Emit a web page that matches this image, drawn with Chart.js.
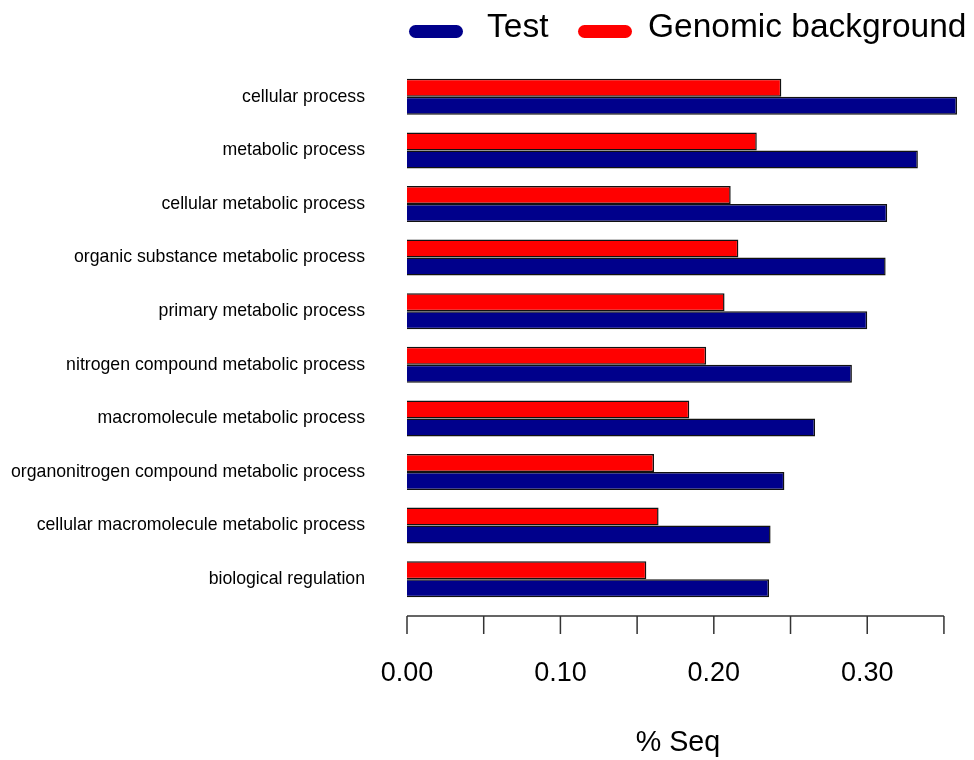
<!DOCTYPE html>
<html>
<head>
<meta charset="utf-8">
<script src="https://cdn.jsdelivr.net/npm/chart.js@4/dist/chart.umd.min.js"></script>
<style>
  html, body { margin: 0; padding: 0; background: #fff; overflow: hidden; }
  #wrap { width: 974px; height: 760px; position: relative; }
</style>
</head>
<body>
<div id="wrap"><canvas id="chart"></canvas></div>
<script>
const categories = [
    'cellular process',
    'metabolic process',
    'cellular metabolic process',
    'organic substance metabolic process',
    'primary metabolic process',
    'nitrogen compound metabolic process',
    'macromolecule metabolic process',
    'organonitrogen compound metabolic process',
    'cellular macromolecule metabolic process',
    'biological regulation'
];
const testValues = [0.3585, 0.333, 0.313, 0.312, 0.300, 0.290, 0.266, 0.246, 0.237, 0.236];
const backgroundValues = [0.244, 0.228, 0.211, 0.216, 0.207, 0.195, 0.184, 0.161, 0.164, 0.156];
const xTickValues = [0, 0.05, 0.10, 0.15, 0.20, 0.25, 0.30, 0.35];
const xTickLabels = ['0.00', '', '0.10', '', '0.20', '', '0.30', ''];

const FONT = 'Liberation Sans, Arial, sans-serif';

// R-style detached axis line under the bars
const axisLine = {
    id: 'axisLine',
    afterDraw(chart) {
        const x = chart.scales.x;
        const ctx = chart.ctx;
        const y0 = 616, y1 = 634;
        ctx.save();
        ctx.strokeStyle = '#333';
        ctx.lineWidth = 1.5;
        ctx.beginPath();
        ctx.moveTo(x.getPixelForValue(xTickValues[0]), y0);
        ctx.lineTo(x.getPixelForValue(xTickValues[xTickValues.length - 1]), y0);
        xTickValues.forEach(v => {
            const px = x.getPixelForValue(v);
            ctx.moveTo(px, y0);
            ctx.lineTo(px, y1);
        });
        ctx.stroke();
        ctx.restore();
    }
};

// legend drawn like the R one: rounded colour bars, Test first
const topLegend = {
    id: 'topLegend',
    afterDraw(chart) {
        const ctx = chart.ctx;
        const items = chart.data.datasets.slice().reverse();
        const boxX = [409, 578], textX = [487, 648];
        ctx.save();
        ctx.font = '33.5px ' + FONT;
        ctx.textBaseline = 'alphabetic';
        items.forEach((d, i) => {
            ctx.fillStyle = d.backgroundColor;
            ctx.beginPath();
            ctx.roundRect(boxX[i], 25, 54, 13, 6.5);
            ctx.fill();
            ctx.fillStyle = '#000';
            ctx.fillText(d.label, textX[i], 37);
        });
        ctx.restore();
    }
};

new Chart(document.getElementById('chart'), {
    type: 'bar',
    data: {
        labels: categories,
        datasets: [{
            label: 'Genomic background',
            data: backgroundValues,
            backgroundColor: '#ff0000',
            borderColor: '#111',
            borderWidth: 1.5,
            clip: false
        }, {
            label: 'Test',
            data: testValues,
            backgroundColor: '#00008b',
            borderColor: '#111',
            borderWidth: 1.5,
            clip: false
        }]
    },
    options: {
        indexAxis: 'y',
        responsive: true,
        maintainAspectRatio: false,
        animation: false,
        layout: { padding: { left: 0, right: 25, top: 70, bottom: 0 } },
        datasets: { bar: { categoryPercentage: 0.672, barPercentage: 1 } },
        scales: {
            x: {
                min: 0,
                max: 0.3533,
                grid: { display: false, drawTicks: true, tickLength: 51 },
                border: { display: false },
                afterBuildTicks: s => { s.ticks = xTickValues.map(v => ({ value: v })); },
                afterFit: s => { s.height = 154; },
                ticks: {
                    padding: 0,
                    color: '#000',
                    font: { family: FONT, size: 27 },
                    callback: (v, i) => xTickLabels[i]
                },
                title: {
                    display: true,
                    text: '% Seq',
                    color: '#000',
                    padding: { top: 0, bottom: 0 },
                    font: { family: FONT, size: 28.7 }
                }
            },
            y: {
                grid: { display: false, drawTicks: true, tickLength: 42 },
                border: { display: false },
                afterFit: s => { s.width = 407; },
                ticks: {
                    padding: 0,
                    color: '#000',
                    font: { family: FONT, size: 17.7 }
                }
            }
        },
        plugins: {
            tooltip: { enabled: false },
            legend: { display: false }
        }
    },
    plugins: [axisLine, topLegend]
});
</script>
</body>
</html>
